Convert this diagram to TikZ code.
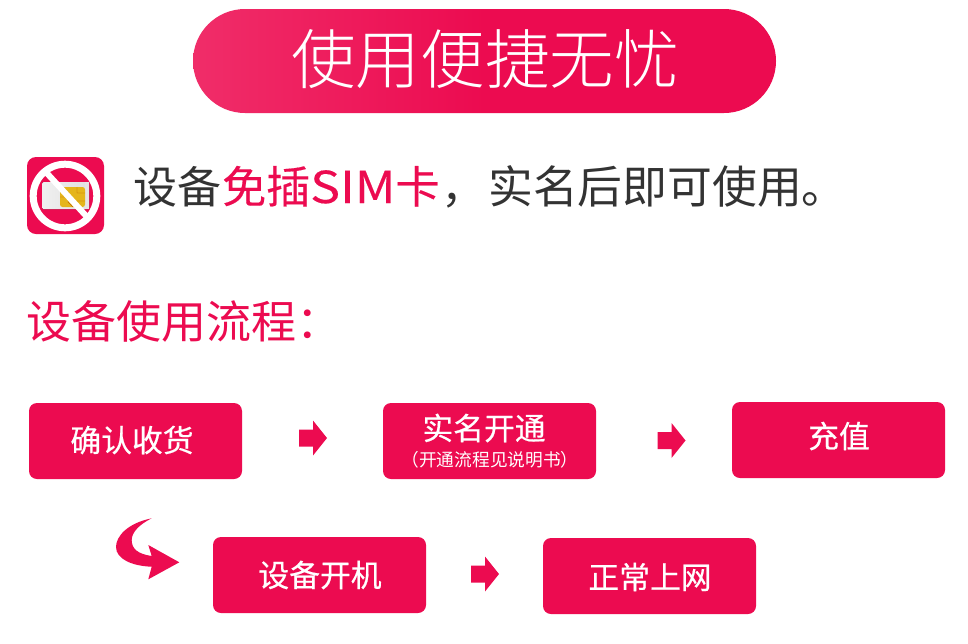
\documentclass[tikz,border=0pt]{standalone}
\usepackage{fontspec}
\usepackage{graphicx}
\usetikzlibrary{calc}
\setmainfont{Noto Sans CJK SC}
\newfontfamily\thincjk{Noto Sans CJK SC Light}
\newfontfamily\heavycjk[FakeBold=0.5]{Noto Sans CJK SC}
\newfontfamily\semicjk[FakeBold=0.3]{Noto Sans CJK SC}
\definecolor{brand}{HTML}{EC0B50}
\definecolor{brandlight}{HTML}{F02D69}
\definecolor{ink}{HTML}{333333}
\tikzset{
  x=1pt,y=-1pt,
  flowbox/.style={fill=brand,draw=none,rounded corners=8pt,minimum width=213pt,minimum height=76pt,inner sep=0pt},
  flowtext/.style={text=white,font=\heavycjk\fontsize{30.8}{31}\selectfont,inner sep=0pt},
  subtext/.style={text=white,font=\fontsize{17.7}{18}\selectfont,inner sep=0pt},
  blockarrow/.pic={\fill[brand] (-14,-8.5) -- (0,-8.5) -- (0,-17.5) -- (14,0) -- (0,17.5) -- (0,8.5) -- (-14,8.5) -- cycle;},
}
\begin{document}
\begin{tikzpicture}
\useasboundingbox (0,0) rectangle (968,643);
\fill[white] (0,0) rectangle (968,643);
% title pill
\node[draw=none,rounded corners=52pt,minimum width=583pt,minimum height=104pt,inner sep=0pt,
      left color=brandlight,right color=brand,middle color=brand] (title) at (484.5,61) {};
\node[text=white,font=\thincjk\fontsize{64.6}{65}\selectfont,inner sep=0pt] (titletext) at (485,59) {使用便捷无忧};
% icon
\fill[brand,rounded corners=9pt] (27,157) rectangle (104,234);
\fill[left color=black!6,right color=black!12,rounded corners=1.5pt] (42,182) rectangle (89,209);
\fill[white!90!black] (85,182) rectangle (89,209);
\fill[yellow!55!orange!90!black,rounded corners=2.5pt] (60,187) rectangle (85,207);
\draw[orange!75!black,line width=.4pt] (60,197) -- (68,197) (77,187) -- (77,193) -- (85,193) (77,201) -- (85,201) (68,192) -- (68,202) -- (73,207);
\draw[white,line width=7pt] (65,196) circle (31.8);
\draw[white,line width=6pt] (44,170) -- (88,218);
% subtitle
\node[anchor=base west,text=ink,font=\fontsize{44}{44}\selectfont,inner sep=0pt] (line1) at (133,203) {设备};
\node[anchor=base west,text=brand,font=\semicjk\fontsize{44}{44}\selectfont,inner sep=0pt] (line2) at (222,203) {免插\scalebox{1.14}[1]{SIM}卡};
\node[anchor=base west,text=ink,font=\fontsize{44}{44}\selectfont,inner sep=0pt] (linecomma) at (441,203) {，};
\node[anchor=base west,text=ink,font=\fontsize{44.8}{45}\selectfont,inner sep=0pt] (line3) at (488,203) {实名后即可使用。};
\node[anchor=west,text=brand,font=\fontsize{45}{45}\selectfont,inner sep=0pt] (flowhead) at (26,321) {设备使用流程：};
% boxes
\node[flowbox] (b1) at (135.5,441) {};
\node[flowbox] (b2) at (489.5,441) {};
\node[flowbox] (b3) at (838.5,440) {};
\node[flowbox] (b4) at (319.5,575) {};
\node[flowbox] (b5) at (649.5,576) {};
\node[flowtext] (t1) at (132,440) {确认收货};
\node[flowtext] (t2) at (484,428) {实名开通};
\node[subtext] (t2b) at (490,460) {（开通流程见说明书）};
\node[flowtext] (t3) at (839,436) {充值};
\node[flowtext] (t4) at (320,575) {设备开机};
\node[flowtext] (t5) at (650,577) {正常上网};
% arrows
\coordinate (a1) at ($(b1.east)!.5!(b2.west)+(0.5,-3)$);
\coordinate (a2) at ($(b2.east)!.5!(b3.west)+(7.5,0)$);
\coordinate (a3) at ($(b4.east)!.5!(b5.west)+(.5,-1.5)$);
\pic at (a1) {blockarrow};
\pic at (a2) {blockarrow};
\pic at (a3) {blockarrow};
% curved arrow
\fill[brand] (151.7,518.3) .. controls (128,523) and (116,536) .. (116,547)
  .. controls (116,559) and (132,566) .. (151.7,566.7)
  -- (148.3,579.3) -- (179.3,562.3) -- (148.3,545) -- (151.7,556)
  .. controls (138,554) and (131.7,549) .. (131.7,540)
  .. controls (131.7,532) and (140,524) .. (151.7,518.3) -- cycle;
\end{tikzpicture}
\end{document}
